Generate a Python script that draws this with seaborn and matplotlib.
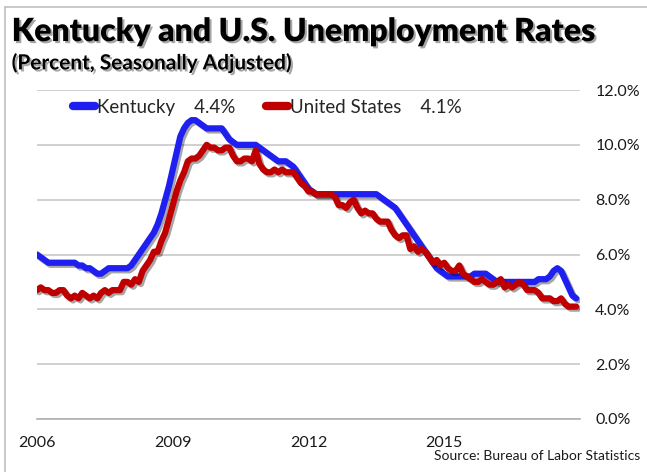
"""
Kentucky and U.S. unemployment rates (monthly, seasonally adjusted)
"""

import numpy as np
import pandas as pd
import matplotlib
matplotlib.use("Agg")
import matplotlib.pyplot as plt
import matplotlib.patheffects as pe
from matplotlib.lines import Line2D
import seaborn as sns

# ── data (Jan 2006 - Dec 2017) ────────────────────────────────────
kentucky = [
    6.0, 5.9, 5.8, 5.7, 5.7, 5.7, 5.7, 5.7, 5.7, 5.7, 5.7, 5.6,   # 2006
    5.6, 5.5, 5.5, 5.4, 5.3, 5.3, 5.4, 5.5, 5.5, 5.5, 5.5, 5.5,   # 2007
    5.5, 5.6, 5.8, 6.0, 6.2, 6.4, 6.6, 6.8, 7.1, 7.5, 8.0, 8.5,   # 2008
    9.1, 9.7, 10.3, 10.6, 10.8, 10.9, 10.9, 10.8, 10.7, 10.6, 10.6, 10.6,  # 2009
    10.6, 10.6, 10.4, 10.2, 10.1, 10.0, 10.0, 10.0, 10.0, 10.0, 10.0, 9.9,  # 2010
    9.8, 9.7, 9.6, 9.5, 9.4, 9.4, 9.4, 9.3, 9.2, 9.0, 8.8, 8.6,   # 2011
    8.4, 8.3, 8.2, 8.2, 8.2, 8.2, 8.2, 8.2, 8.2, 8.2, 8.2, 8.2,   # 2012
    8.2, 8.2, 8.2, 8.2, 8.2, 8.2, 8.2, 8.1, 8.0, 7.9, 7.8, 7.7,   # 2013
    7.5, 7.3, 7.1, 6.9, 6.7, 6.5, 6.3, 6.1, 5.9, 5.7, 5.5, 5.4,   # 2014
    5.3, 5.2, 5.2, 5.2, 5.2, 5.2, 5.2, 5.2, 5.3, 5.3, 5.3, 5.3,   # 2015
    5.2, 5.1, 5.0, 5.0, 5.0, 5.0, 5.0, 5.0, 5.0, 5.0, 5.0, 5.0,   # 2016
    5.0, 5.1, 5.1, 5.1, 5.2, 5.4, 5.5, 5.4, 5.1, 4.8, 4.5, 4.4,   # 2017
]
united_states = [
    4.7, 4.8, 4.7, 4.7, 4.6, 4.6, 4.7, 4.7, 4.5, 4.4, 4.5, 4.4,   # 2006
    4.6, 4.5, 4.4, 4.5, 4.4, 4.6, 4.7, 4.6, 4.7, 4.7, 4.7, 5.0,   # 2007
    5.0, 4.9, 5.1, 5.0, 5.4, 5.6, 5.8, 6.1, 6.1, 6.5, 6.8, 7.3,   # 2008
    7.8, 8.3, 8.7, 9.0, 9.4, 9.5, 9.5, 9.6, 9.8, 10.0, 9.9, 9.9,  # 2009
    9.8, 9.8, 9.9, 9.9, 9.6, 9.4, 9.4, 9.5, 9.5, 9.4, 9.8, 9.3,   # 2010
    9.1, 9.0, 9.0, 9.1, 9.0, 9.1, 9.0, 9.0, 9.0, 8.8, 8.6, 8.5,   # 2011
    8.3, 8.3, 8.2, 8.2, 8.2, 8.2, 8.2, 8.1, 7.8, 7.8, 7.7, 7.9,   # 2012
    8.0, 7.7, 7.5, 7.6, 7.5, 7.5, 7.3, 7.2, 7.2, 7.2, 6.9, 6.7,   # 2013
    6.6, 6.7, 6.7, 6.2, 6.3, 6.1, 6.2, 6.1, 5.9, 5.7, 5.8, 5.6,   # 2014
    5.7, 5.5, 5.4, 5.4, 5.6, 5.3, 5.2, 5.1, 5.0, 5.0, 5.1, 5.0,   # 2015
    4.9, 4.9, 5.0, 5.1, 4.8, 4.9, 4.8, 4.9, 5.0, 4.9, 4.7, 4.7,   # 2016
    4.7, 4.6, 4.4, 4.4, 4.4, 4.3, 4.3, 4.4, 4.2, 4.1, 4.1, 4.1,   # 2017
]
series_names = ["Kentucky    4.4%", "United States    4.1%"]
series_colors = ["#1f1ff2", "#c00000"]
year_ticks = [2006, 2009, 2012, 2015, 2018]
year_labels = ["2006", "2009", "2012", "2015", ""]
pct_ticks = [0, 2, 4, 6, 8, 10, 12]

# ── long-form table ────────────────────────────────────────
months = np.arange(len(kentucky))
t = 2006 + months / 12
df = pd.concat([
    pd.DataFrame({"year": t, "rate": kentucky, "area": series_names[0]}),
    pd.DataFrame({"year": t, "rate": united_states, "area": series_names[1]}),
], ignore_index=True)

# ── plot ──────────────────────────────────────────────
sns.set_style("white")
plt.rcParams["font.family"] = ["Lato", "DejaVu Sans"]

fig = plt.figure(figsize=(6.47, 4.72), dpi=100)
ax = fig.add_axes([0.0572, 0.1123, 0.8392, 0.697])

shadow = [pe.SimpleLineShadow(offset=(1.5, -1.5), shadow_color="black", alpha=0.35),
          pe.Normal()]
sns.lineplot(data=df, x="year", y="rate", hue="area", palette=series_colors,
             linewidth=4.5, ax=ax, legend=False)
for line in ax.lines:
    line.set_path_effects(shadow)
    line.set_solid_capstyle("round")

ax.set_xlim(2006, 2018)
ax.set_ylim(0, 12)
ax.set_xticks(year_ticks)
ax.set_xticklabels(year_labels)
ax.set_yticks(pct_ticks)
ax.set_yticklabels([f"{v:.1f}%" for v in pct_ticks])
ax.yaxis.tick_right()
ax.tick_params(axis="y", length=0, pad=11, labelsize=11.5, colors="#1a1a1a")
ax.tick_params(axis="x", length=6, width=1, color="#b0b0b0", direction="out",
               pad=6, labelsize=11.5, colors="#1a1a1a")
ax.grid(axis="y", color="#c8c8c8", linewidth=1.2)
ax.set_xlabel("")
ax.set_ylabel("")
for side in ["left", "right", "top"]:
    ax.spines[side].set_visible(False)
ax.spines["bottom"].set_color("#b0b0b0")
ax.spines["bottom"].set_linewidth(1.2)
ax.set_axisbelow(True)

handles = [Line2D([], [], color=c, linewidth=6, solid_capstyle="round") for c in series_colors]
ax.legend(handles, series_names, ncol=2, loc="upper left", bbox_to_anchor=(0.035, 1.025),
          frameon=False, fontsize=13.5, handlelength=1.2, handletextpad=0.1,
          columnspacing=1.6)

# titles with drop shadow
txt_shadow = [pe.withSimplePatchShadow(offset=(1.5, -1.5), shadow_rgbFace="black", alpha=0.35)]
fig.text(0.018, 0.913, "Kentucky and U.S. Unemployment Rates", fontsize=23,
         fontweight="heavy", color="black", path_effects=txt_shadow)
fig.text(0.018, 0.853, "(Percent, Seasonally Adjusted)", fontsize=15,
         fontweight="bold", color="black", path_effects=txt_shadow)
fig.text(0.99, 0.025, "Source: Bureau of Labor Statistics", fontsize=10,
         ha="right", color="#1a1a1a")

# slide border (left and top)
fig.add_artist(Line2D([0.008, 0.008], [0, 0.986], color="#c0c0c0", linewidth=1.2))
fig.add_artist(Line2D([0.008, 1.0], [0.986, 0.986], color="#c0c0c0", linewidth=1.2))

plt.savefig("out.png", dpi=100)
